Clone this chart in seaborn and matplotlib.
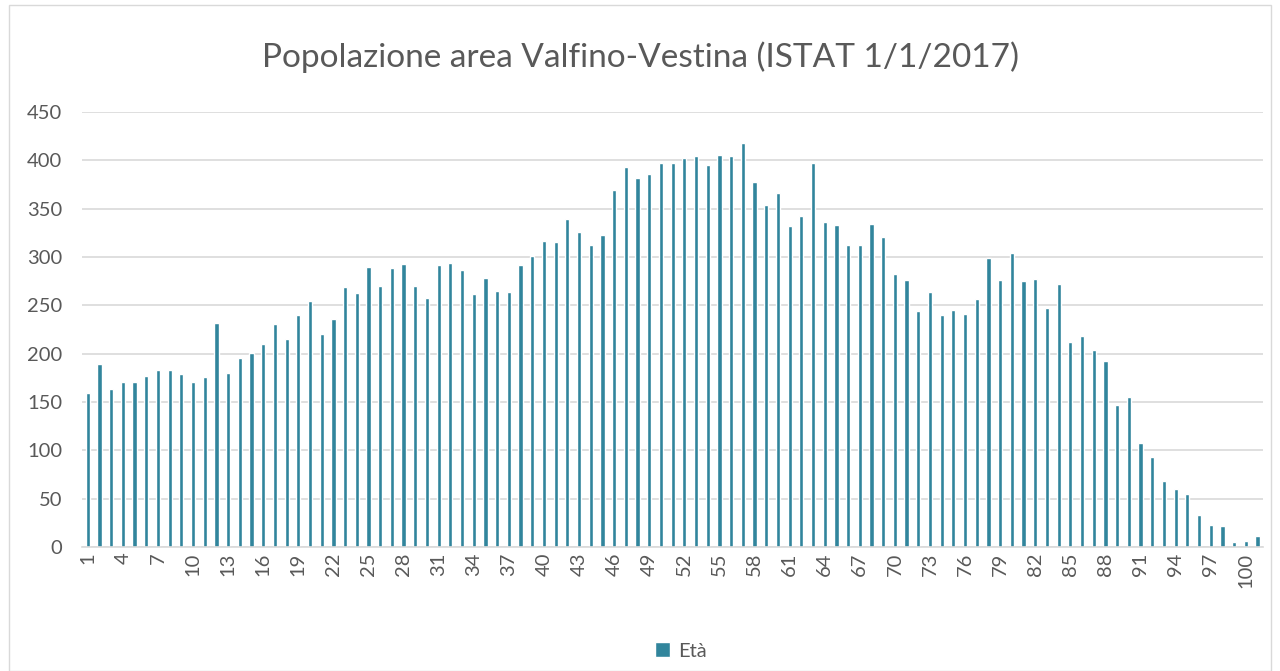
"""Popolazione area Valfino-Vestina per età (ISTAT 1/1/2017)"""

import pandas as pd
import matplotlib.pyplot as plt
import seaborn as sns
from matplotlib.patches import Rectangle

eta = list(range(1, 102))
popolazione = [
    159, 189, 163, 171, 171, 177, 183, 183, 179, 171,
    176, 232, 180, 196, 201, 210, 231, 215, 240, 254,
    220, 236, 269, 263, 290, 270, 289, 293, 270, 258,
    292, 294, 287, 262, 278, 265, 264, 292, 301, 317,
    316, 339, 326, 312, 323, 369, 393, 382, 386, 397,
    397, 402, 404, 395, 406, 404, 418, 378, 354, 366,
    332, 342, 397, 336, 333, 312, 312, 334, 321, 282,
    276, 244, 264, 240, 245, 241, 257, 299, 276, 304,
    275, 277, 247, 272, 212, 218, 204, 192, 147, 155,
    108, 93, 68, 60, 55, 33, 23, 22, 5, 6,
    11,
]
tick_labels = [str(v) for v in eta[::3]]

BAR_COLOR = "#31859C"
GRID_COLOR = "#D9D9D9"
TEXT_COLOR = "#595959"

df = pd.DataFrame({"Età": eta, "Popolazione": popolazione})

sns.set_theme(style="white")
plt.rcParams["font.family"] = ["Lato", "DejaVu Sans"]

fig = plt.figure(figsize=(12.8, 6.71), dpi=100)
ax = fig.add_axes([0.064, 0.1848, 0.923, 0.6483])

sns.barplot(data=df, x="Età", y="Popolazione", color=BAR_COLOR, width=0.36,
            saturation=1, label="Età", ax=ax)

handles, labels = ax.get_legend_handles_labels()
if ax.get_legend() is not None:
    ax.get_legend().remove()

ax.set_xlim(-0.5, len(eta) - 0.5)
ax.set_ylim(0, 450)
ax.set_yticks(range(0, 451, 50))
ax.set_xticks(range(0, len(eta), 3))
ax.set_xticklabels(tick_labels, rotation=90)
ax.tick_params(axis="both", labelsize=14.5, colors=TEXT_COLOR, length=0)
ax.tick_params(axis="y", pad=14)
ax.tick_params(axis="x", pad=4)
ax.set_xlabel("")
ax.set_ylabel("")
ax.yaxis.grid(True, color=GRID_COLOR, linewidth=1.2)
ax.set_axisbelow(True)
for side in ["left", "right", "top"]:
    ax.spines[side].set_visible(False)
ax.spines["bottom"].set_color(GRID_COLOR)
ax.spines["bottom"].set_linewidth(1.2)

fig.text(0.5, 1 - 57 / 671, "Popolazione area Valfino-Vestina (ISTAT 1/1/2017)",
         ha="center", va="center", fontsize=24, color=TEXT_COLOR)

fig.legend(handles, labels, loc="center", bbox_to_anchor=(681 / 1280, 1 - 651 / 671),
           frameon=False, fontsize=14.5, labelcolor=TEXT_COLOR,
           handlelength=0.75, handleheight=0.75, handletextpad=0.4)

fig.patches.append(Rectangle((9 / 1280, 0.0), 1 - 18 / 1280, 1 - 5 / 671,
                             transform=fig.transFigure, fill=False,
                             edgecolor=GRID_COLOR, linewidth=1))

fig.savefig("out.png", dpi=100, facecolor="white")
plt.close()
